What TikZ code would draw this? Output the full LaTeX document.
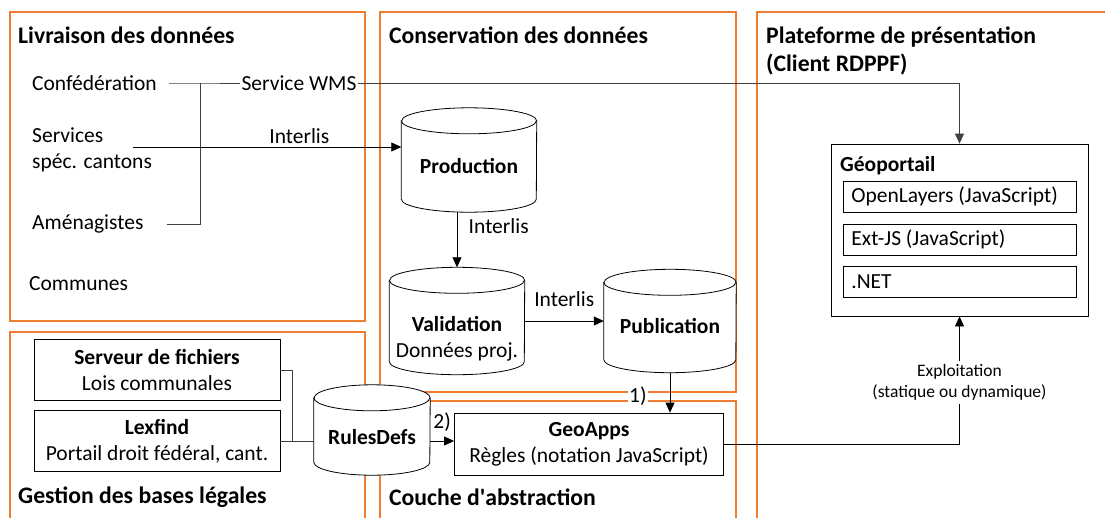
\documentclass[tikz,border=0pt]{standalone}
\usepackage{fontspec}
\setmainfont{Carlito}
\usetikzlibrary{arrows.meta}
\definecolor{panelorange}{HTML}{ED7D31}
\definecolor{wiregray}{HTML}{404040}
\newcommand{\dgsize}{\fontsize{21.5}{26}\selectfont}
\newcommand{\dgtitle}{\fontsize{23.7}{28}\selectfont}
\newcommand{\dgsmall}{\fontsize{17.5}{21}\selectfont}
\newcommand{\dbshape}[2]{%
  \draw[dbline,fill=white] ([yshift=-13pt]#1.north west) -- ([yshift=13pt]#1.south west)
    arc[start angle=180,end angle=360,x radius=#2pt,y radius=13pt]
    -- ([yshift=-13pt]#1.north east)
    arc[start angle=0,end angle=180,x radius=#2pt,y radius=13pt] -- cycle;
  \draw[dbline] ([yshift=-13pt]#1.north west)
    arc[start angle=180,end angle=360,x radius=#2pt,y radius=13pt];}

\begin{document}
\begin{tikzpicture}[x=1pt,y=-1pt,
  every node/.style={font=\dgsize},
  panel/.style={draw=panelorange,line width=1.1pt},
  title/.style={font=\dgtitle\bfseries,anchor=west,inner sep=0pt,align=left},
  txt/.style={anchor=west,inner sep=0pt,align=left},
  db/.style={inner sep=0pt},
  dbline/.style={line width=0.8pt},
  dbtext/.style={align=center,inner sep=0pt},
  box/.style={draw,fill=white,line width=0.8pt,align=center},
  layer/.style={draw,line width=0.8pt,anchor=west,minimum width=233pt,
    minimum height=31pt,text width=217pt,inner xsep=8pt,align=flush left},
  flow/.style={line width=0.8pt,-{Triangle[length=10pt,width=9pt]}},
  wire/.style={draw=wiregray,line width=0.8pt}]
\useasboundingbox (0,0) rectangle (1105,517);
\draw[panel] (10,12) rectangle (365,321);
\draw[panel] (10,332) rectangle (365,530);
\draw[panel] (380,12) rectangle (736,392);
\draw[panel] (380,401) rectangle (736,530);
\draw[panel] (757,12) rectangle (1120,530);
\node[title] (tliv) at (18,35) {Livraison des données};
\node[title] (tcons) at (389,35) {Conservation des données};
\node[title] (tplat) at (766,50.5) {Plateforme de présentation\\(Client RDPPF)};
\node[title] (tgest) at (18,497) {Gestion des bases légales};
\node[title] (tcouche) at (389,497) {Couche d\textquotesingle abstraction};
\node[txt] (conf) at (32,83) {Confédération};
\node[txt] (serv) at (32,150) {Services\\spéc. cantons};
\node[txt] (amen) at (32,224) {Aménagistes};
\node[txt] (comm) at (29,284) {Communes};
\coordinate (j) at (200,83);
\coordinate (servout) at (133,147);
\node[inner sep=1pt] (wms) at (299,83) {Service WMS};
\node[db,minimum width=135pt,minimum height=104pt] (prod) at (469,160) {};
\dbshape{prod}{67.5}
\node[dbtext] (prodt) at (469,166) {\textbf{Production}};
\node[db,minimum width=135pt,minimum height=107pt] (val) at (457,321) {};
\dbshape{val}{67.5}
\node[dbtext] (valt) at (457,338.5) {\textbf{Validation}\\Données proj.};
\node[db,minimum width=132pt,minimum height=103pt] (pub) at (670,321) {};
\dbshape{pub}{66}
\node[dbtext] (pubt) at (670,326) {\textbf{Publication}};
\node[box,minimum width=246pt,minimum height=61pt] (srv) at (157,370) {\textbf{Serveur de fichiers}\\Lois communales};
\node[box,minimum width=246pt,minimum height=61pt] (lex) at (157,441) {\textbf{Lexfind}\\Portail droit fédéral, cant.};
\node[db,minimum width=116pt,minimum height=90pt] (rules) at (372,430) {};
\dbshape{rules}{58}
\node[dbtext] (rulest) at (372,437) {\textbf{RulesDefs}};
\node[box,minimum width=269pt,minimum height=62pt] (geoapps) at (589,444) {\textbf{GeoApps}\\Règles (notation JavaScript)};
\node[draw,line width=0.8pt,minimum width=257pt,minimum height=172pt] (geo) at (959.5,230) {};
\node[txt,font=\dgsize\bfseries] (tgeo) at (840,166) {Géoportail};
\node[layer] (ol) at (843,196.5) {OpenLayers (JavaScript)};
\node[layer] (ext) at (843,239.5) {Ext-JS (JavaScript)};
\node[layer] (net) at (843,282) {.NET};
\coordinate (k) at (292,441);
\draw[wire,shorten <=12pt] (conf.east) -- (j) -- (wms.west);
\draw[wire,shorten <=23pt] (amen.east) -- (amen.east -| j) -- (j);
\draw[wire,flow] (wms.east) -| (geo.north);
\draw[flow] (servout) -- (servout -| prod.west) node[pos=0.62,above] (il1) {Interlis};
\draw[flow] (val.north |- prod.south) -- (val.north) node[pos=0.25,right=8pt] (il2) {Interlis};
\draw[flow] (val.east) -- (pub.west) node[midway,above=11pt] (il3) {Interlis};
\draw[flow] (pub.south) -- (pub.south |- geoapps.north) node[pos=0.58,left=22pt,fill=white,inner sep=1pt] (n1) {1)};
\draw[wire] (srv.east) -| (k);
\draw[wire] (lex.east) -- (lex.east -| rules.west);
\draw[flow] (lex.east -| rules.east) -- (lex.east -| geoapps.west) node[midway,above=6pt] (n2) {2)};
\draw[flow] (geoapps.east) -| (geo.south) node[pos=0.74,fill=white,font=\dgsmall,align=center] (expl) {Exploitation\\(statique ou dynamique)};
\end{tikzpicture}
\end{document}
